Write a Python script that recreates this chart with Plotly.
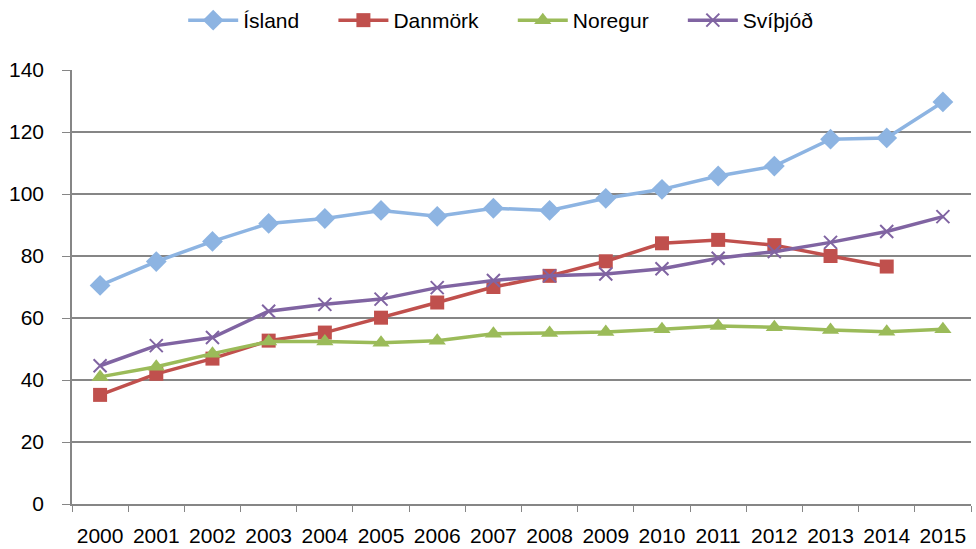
import plotly.graph_objects as go

years = [str(y) for y in range(2000, 2016)]
island = [70.5, 78.2, 84.7, 90.5, 92.1, 94.7, 92.8, 95.4, 94.7, 98.6, 101.5, 105.8, 109.0, 117.7, 118.1, 129.7]
danmork = [35.2, 42.0, 46.9, 52.7, 55.3, 60.1, 65.0, 70.0, 73.6, 78.3, 84.1, 85.2, 83.5, 80.0, 76.6]
noregur = [41.0, 44.3, 48.5, 52.4, 52.4, 52.0, 52.7, 54.9, 55.2, 55.5, 56.4, 57.4, 57.0, 56.1, 55.6, 56.4]
svithjod = [44.6, 51.1, 53.7, 62.2, 64.4, 66.1, 69.8, 72.1, 73.6, 74.2, 75.9, 79.3, 81.4, 84.4, 87.9, 92.7]
yticks = [0, 20, 40, 60, 80, 100, 120, 140]

series = [
    ("Ísland", island, "#8DB4E2", "diamond", 16),
    ("Danmörk", danmork, "#C0504D", "square", 14),
    ("Noregur", noregur, "#9BBB59", "triangle-up", 15),
    ("Svíþjóð", svithjod, "#8064A2", "x-thin", 13),
]

pad = "\u00a0" * 5
fig = go.Figure()
for i, (name, vals, col, sym, sz) in enumerate(series):
    label = name + (pad if i < len(series) - 1 else "")
    fig.add_trace(go.Scatter(
        x=years[:len(vals)], y=vals, name=label, mode="lines+markers",
        line=dict(color=col, width=3.5),
        marker=dict(symbol=sym, size=sz, color=col,
                    line=dict(color=col, width=2 if sym == "x-thin" else 0)),
    ))

font = "Liberation Sans, Arial, sans-serif"
fig.update_layout(
    width=976, height=549,
    margin=dict(l=72, r=5, t=70, b=45, autoexpand=False),
    paper_bgcolor="white", plot_bgcolor="white",
    font=dict(family=font, size=21, color="black"),
    legend=dict(orientation="h", x=0.513, xanchor="center", y=1.0, yanchor="top",
                yref="container", xref="container", itemwidth=50,
                font=dict(size=21)),
    showlegend=True,
)
fig.update_xaxes(type="category", tickson="boundaries", ticks="outside", ticklen=6,
                 tickcolor="#868686", showline=True, linecolor="#868686", linewidth=1.5,
                 showgrid=False, tickfont=dict(size=21), range=[-0.5, 15.5],
                 ticklabelstandoff=12)
fig.update_yaxes(range=[0, 140], tickvals=yticks, ticks="outside", ticklen=8,
                 tickcolor="#868686", showline=True, linecolor="#868686", linewidth=1.5,
                 showgrid=True, gridcolor="#868686", gridwidth=1.5, zeroline=False,
                 tickfont=dict(size=21), ticklabelstandoff=14)

fig.write_html("out.html", config={"displayModeBar": False},
               post_script="document.body.style.margin='0';document.body.style.overflow='hidden';")
